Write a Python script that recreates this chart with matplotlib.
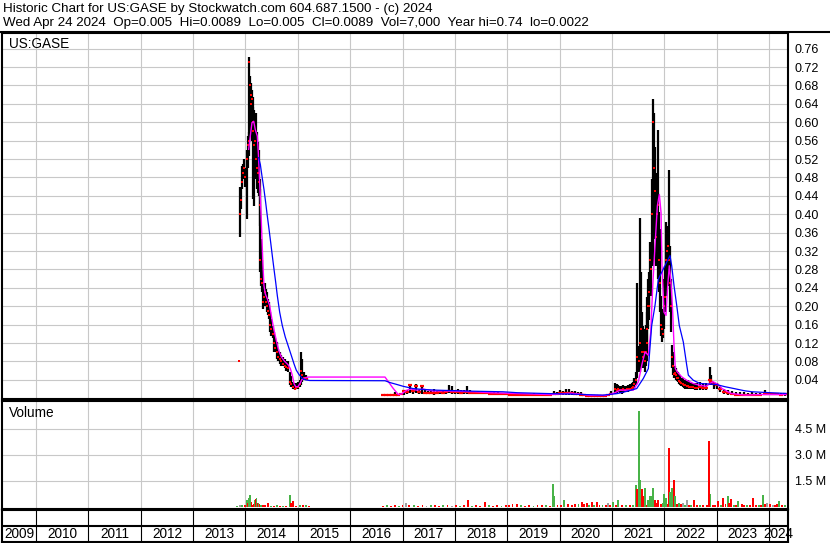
import numpy as np
import matplotlib.pyplot as plt
from matplotlib.lines import Line2D

plt.rcParams['font.family'] = ['Liberation Sans', 'DejaVu Sans']

# ---- price bars, dates as fractional years ----
# 2013-2015 run-up and collapse
dates_a = [2013.877, 2013.902, 2013.921, 2013.940, 2013.959, 2013.978, 2013.997, 2014.024, 2014.043, 2014.062,
           2014.074, 2014.087, 2014.100, 2014.112, 2014.125, 2014.139, 2014.150, 2014.163, 2014.177, 2014.196,
           2014.215, 2014.234, 2014.253, 2014.272, 2014.284, 2014.297, 2014.311, 2014.330, 2014.349, 2014.368,
           2014.387, 2014.406, 2014.425, 2014.444, 2014.469, 2014.494, 2014.521, 2014.545, 2014.570, 2014.597,
           2014.622, 2014.654, 2014.685, 2014.717, 2014.750, 2014.780, 2014.813, 2014.845, 2014.876, 2014.908,
           2014.941, 2014.971, 2015.004, 2015.036, 2015.067, 2015.086, 2015.118, 2015.151, 2015.181]
high_a = [0.080, 0.460, 0.454, 0.504, 0.510, 0.520, 0.500, 0.540, 0.570, 0.578,
          0.742, 0.700, 0.685, 0.670, 0.670, 0.655, 0.634, 0.627, 0.612, 0.620,
          0.578, 0.556, 0.540, 0.476, 0.454, 0.346, 0.300, 0.250, 0.244, 0.250,
          0.238, 0.230, 0.216, 0.210, 0.188, 0.173, 0.158, 0.145, 0.130, 0.123,
          0.108, 0.100, 0.093, 0.090, 0.086, 0.082, 0.080, 0.058, 0.049, 0.036,
          0.032, 0.032, 0.036, 0.040, 0.100, 0.086, 0.058, 0.050, 0.045]
low_a = [0.080, 0.350, 0.411, 0.454, 0.476, 0.490, 0.460, 0.390, 0.500, 0.526,
         0.569, 0.570, 0.590, 0.600, 0.560, 0.578, 0.433, 0.418, 0.490, 0.476,
         0.454, 0.447, 0.440, 0.374, 0.274, 0.244, 0.230, 0.195, 0.200, 0.210,
         0.200, 0.188, 0.180, 0.173, 0.145, 0.136, 0.130, 0.100, 0.100, 0.086,
         0.080, 0.075, 0.071, 0.069, 0.065, 0.060, 0.058, 0.028, 0.025, 0.021,
         0.017, 0.019, 0.021, 0.025, 0.028, 0.036, 0.039, 0.040, 0.040]
close_a = [0.080, 0.400, 0.430, 0.470, 0.490, 0.500, 0.480, 0.520, 0.550, 0.560,
           0.730, 0.680, 0.660, 0.640, 0.650, 0.600, 0.580, 0.550, 0.560, 0.520,
           0.500, 0.490, 0.470, 0.420, 0.300, 0.260, 0.250, 0.210, 0.220, 0.230,
           0.210, 0.200, 0.190, 0.180, 0.160, 0.150, 0.140, 0.120, 0.110, 0.100,
           0.090, 0.085, 0.080, 0.075, 0.070, 0.068, 0.065, 0.035, 0.030, 0.025,
           0.020, 0.022, 0.025, 0.030, 0.060, 0.050, 0.045, 0.045, 0.042]

# 2016-2020 quiet years
dates_b = [2016.627, 2016.685, 2016.742, 2016.799, 2016.857, 2016.914, 2016.971,
           2017.028, 2017.086, 2017.143, 2017.200, 2017.258, 2017.315, 2017.372, 2017.430, 2017.487, 2017.544,
           2017.601, 2017.659, 2017.716, 2017.773, 2017.831, 2017.888, 2017.945,
           2018.002, 2018.060, 2018.117, 2018.174, 2018.232, 2018.289, 2018.365, 2018.442, 2018.518, 2018.594,
           2018.671, 2018.747, 2018.824, 2018.900, 2018.976,
           2019.053, 2019.129, 2019.206, 2019.282, 2019.358, 2019.435, 2019.511, 2019.588, 2019.664, 2019.740,
           2019.817, 2019.893, 2019.950,
           2020.008, 2020.065, 2020.122, 2020.180, 2020.237, 2020.294, 2020.351, 2020.409, 2020.466, 2020.523,
           2020.581, 2020.638, 2020.695, 2020.753, 2020.810, 2020.867, 2020.925, 2020.982]
high_b = [0.010, 0.010, 0.009, 0.010, 0.014, 0.010, 0.012,
          0.018, 0.018, 0.030, 0.020, 0.030, 0.018, 0.028, 0.018, 0.016, 0.015,
          0.020, 0.016, 0.015, 0.016, 0.018, 0.028, 0.026,
          0.018, 0.020, 0.017, 0.018, 0.026, 0.017, 0.016, 0.016, 0.015, 0.014,
          0.014, 0.013, 0.013, 0.012, 0.012,
          0.012, 0.011, 0.011, 0.011, 0.010, 0.010, 0.011, 0.010, 0.010, 0.011,
          0.010, 0.016, 0.014,
          0.018, 0.015, 0.020, 0.020, 0.016, 0.015, 0.014, 0.013, 0.009, 0.008,
          0.008, 0.008, 0.008, 0.008, 0.008, 0.008, 0.009, 0.015]
low_b = [0.007, 0.006, 0.006, 0.006, 0.006, 0.006, 0.007,
         0.008, 0.010, 0.012, 0.010, 0.012, 0.010, 0.010, 0.010, 0.010, 0.010,
         0.008, 0.009, 0.010, 0.010, 0.010, 0.012, 0.010,
         0.010, 0.010, 0.010, 0.010, 0.010, 0.010, 0.010, 0.010, 0.009, 0.009,
         0.008, 0.008, 0.008, 0.007, 0.007,
         0.007, 0.006, 0.006, 0.006, 0.006, 0.006, 0.006, 0.006, 0.006, 0.006,
         0.006, 0.007, 0.007,
         0.008, 0.008, 0.008, 0.008, 0.008, 0.007, 0.007, 0.006, 0.004, 0.003,
         0.003, 0.003, 0.003, 0.003, 0.003, 0.003, 0.004, 0.006]
close_b = [0.008, 0.008, 0.007, 0.007, 0.008, 0.007, 0.009,
           0.015, 0.013, 0.028, 0.015, 0.027, 0.014, 0.026, 0.012, 0.012, 0.011,
           0.012, 0.012, 0.013, 0.012, 0.014, 0.015, 0.014,
           0.013, 0.014, 0.012, 0.013, 0.014, 0.012, 0.012, 0.012, 0.011, 0.011,
           0.010, 0.010, 0.010, 0.009, 0.009,
           0.008, 0.008, 0.008, 0.008, 0.007, 0.007, 0.007, 0.007, 0.007, 0.007,
           0.007, 0.010, 0.010,
           0.012, 0.011, 0.012, 0.012, 0.011, 0.010, 0.010, 0.008, 0.006, 0.005,
           0.005, 0.005, 0.005, 0.005, 0.005, 0.005, 0.006, 0.010]

# 2021-2022 spike
dates_c = [2021.058, 2021.121, 2021.186, 2021.249, 2021.312, 2021.377, 2021.427, 2021.459, 2021.484, 2021.511,
           2021.536, 2021.561, 2021.580, 2021.599, 2021.618, 2021.637, 2021.664, 2021.689, 2021.714, 2021.733,
           2021.752, 2021.771, 2021.790, 2021.810, 2021.829, 2021.848, 2021.867, 2021.886, 2021.905, 2021.924,
           2021.943, 2021.962, 2021.981,
           2022.000, 2022.019, 2022.038, 2022.057, 2022.076, 2022.095, 2022.114, 2022.133, 2022.153, 2022.172,
           2022.198, 2022.223, 2022.256, 2022.299, 2022.351, 2022.401, 2022.452, 2022.504, 2022.554, 2022.619,
           2021.090, 2021.153, 2021.218, 2021.280, 2021.345, 2021.402, 2021.650, 2021.676, 2021.702, 2022.186,
           2022.240, 2022.278, 2022.325, 2022.376, 2022.427, 2022.478, 2022.530, 2022.586]
high_c = [0.032, 0.028, 0.027, 0.027, 0.028, 0.032, 0.043, 0.058, 0.250, 0.114,
          0.391, 0.274, 0.188, 0.158, 0.151, 0.145, 0.188, 0.259, 0.274, 0.339,
          0.318, 0.476, 0.651, 0.620, 0.547, 0.490, 0.461, 0.584, 0.404, 0.368,
          0.223, 0.194, 0.188,
          0.259, 0.288, 0.383, 0.374, 0.361, 0.497, 0.331, 0.259, 0.115, 0.100,
          0.071, 0.065, 0.058, 0.049, 0.043, 0.039, 0.039, 0.034, 0.034, 0.032,
          0.030, 0.026, 0.028, 0.027, 0.030, 0.036, 0.160, 0.220, 0.240, 0.070,
          0.060, 0.052, 0.045, 0.040, 0.038, 0.036, 0.034, 0.033]
low_c = [0.010, 0.014, 0.010, 0.014, 0.014, 0.0175, 0.021, 0.028, 0.043, 0.058,
         0.058, 0.071, 0.065, 0.071, 0.065, 0.058, 0.080, 0.151, 0.194, 0.244,
         0.223, 0.288, 0.288, 0.404, 0.346, 0.288, 0.318, 0.259, 0.230, 0.188,
         0.136, 0.123, 0.130,
         0.151, 0.188, 0.223, 0.259, 0.244, 0.259, 0.188, 0.145, 0.065, 0.050,
         0.043, 0.039, 0.036, 0.028, 0.025, 0.021, 0.021, 0.019, 0.019, 0.017,
         0.012, 0.012, 0.012, 0.013, 0.015, 0.019, 0.070, 0.110, 0.170, 0.045,
         0.038, 0.030, 0.026, 0.023, 0.021, 0.020, 0.019, 0.018]
close_c = [0.020, 0.020, 0.018, 0.018, 0.020, 0.022, 0.030, 0.040, 0.090, 0.080,
           0.120, 0.150, 0.100, 0.090, 0.100, 0.080, 0.120, 0.200, 0.230, 0.300,
           0.280, 0.400, 0.600, 0.500, 0.450, 0.350, 0.400, 0.420, 0.300, 0.250,
           0.160, 0.150, 0.140,
           0.200, 0.220, 0.300, 0.320, 0.330, 0.300, 0.250, 0.200, 0.090, 0.070,
           0.055, 0.050, 0.045, 0.035, 0.030, 0.028, 0.026, 0.025, 0.024, 0.022,
           0.018, 0.017, 0.019, 0.020, 0.021, 0.025, 0.100, 0.150, 0.200, 0.052,
           0.045, 0.038, 0.032, 0.029, 0.027, 0.025, 0.024, 0.023]

# late 2022 - Apr 2024
dates_d = [2022.681, 2022.739, 2022.796, 2022.863, 2022.892, 2022.949, 2023.006, 2023.063, 2023.140, 2023.216,
           2023.293, 2023.369, 2023.446, 2023.522, 2023.598, 2023.675, 2023.751, 2023.828, 2023.923, 2024.000,
           2024.076, 2024.153, 2024.229, 2024.305]
high_d = [0.036, 0.034, 0.034, 0.067, 0.050, 0.036, 0.034, 0.025, 0.021, 0.018,
          0.015, 0.014, 0.013, 0.013, 0.012, 0.013, 0.012, 0.012, 0.017, 0.013,
          0.012, 0.012, 0.012, 0.0089]
low_d = [0.017, 0.017, 0.017, 0.028, 0.028, 0.021, 0.021, 0.014, 0.010, 0.008,
         0.006, 0.005, 0.005, 0.004, 0.005, 0.005, 0.005, 0.006, 0.007, 0.007,
         0.007, 0.006, 0.006, 0.005]
close_d = [0.024, 0.022, 0.022, 0.040, 0.035, 0.030, 0.028, 0.020, 0.014, 0.012,
           0.010, 0.008, 0.008, 0.007, 0.008, 0.008, 0.008, 0.008, 0.010, 0.009,
           0.009, 0.009, 0.008, 0.0089]

# ---- moving averages ----
ma_short_dates = [2014.062, 2014.093, 2014.125, 2014.158, 2014.188, 2014.227, 2014.246, 2014.272, 2014.297, 2014.316,
                  2014.335, 2014.354, 2014.379, 2014.418, 2014.463, 2014.494, 2014.540, 2014.589, 2014.635, 2014.685,
                  2014.750, 2014.813, 2014.857, 2014.895, 2014.927, 2014.960, 2015.004, 2015.042, 2015.080, 2015.132,
                  2015.195, 2016.666, 2016.729, 2016.824, 2016.920, 2016.985, 2017.080, 2017.176, 2017.271, 2017.397,
                  2017.588, 2017.811, 2018.098, 2018.384, 2018.671, 2018.957, 2019.244, 2019.530, 2019.817, 2020.008,
                  2020.199, 2020.390, 2020.581, 2020.867, 2021.026, 2021.154, 2021.408, 2021.504, 2021.569, 2021.632,
                  2021.695, 2021.741, 2021.779, 2021.822, 2021.867, 2021.905, 2021.937, 2021.956, 2021.994, 2022.032,
                  2022.065, 2022.095, 2022.128, 2022.160, 2022.185, 2022.210, 2022.248, 2022.332, 2022.428, 2022.554,
                  2022.681, 2022.796, 2022.930, 2023.025, 2023.102, 2023.274, 2023.541, 2023.828, 2024.324]
ma_short = [0.541, 0.570, 0.599, 0.602, 0.584, 0.570, 0.534, 0.469, 0.404, 0.346,
            0.288, 0.245, 0.227, 0.216, 0.2016, 0.180, 0.151, 0.126, 0.104, 0.090,
            0.080, 0.073, 0.0645, 0.050, 0.032, 0.025, 0.025, 0.032, 0.041, 0.044,
            0.046, 0.046, 0.036, 0.021, 0.008, 0.0095, 0.0175, 0.020, 0.0175, 0.020,
            0.0155, 0.016, 0.015, 0.014, 0.012, 0.011, 0.010, 0.009, 0.008, 0.009,
            0.011, 0.009, 0.006, 0.006, 0.0104, 0.0175, 0.0175, 0.0357, 0.0717, 0.1006,
            0.0933, 0.144, 0.245, 0.331, 0.418, 0.443, 0.404, 0.288, 0.187, 0.180,
            0.245, 0.288, 0.252, 0.187, 0.115, 0.0645, 0.057, 0.0465, 0.039, 0.032,
            0.028, 0.026, 0.036, 0.030, 0.021, 0.0104, 0.0067, 0.008, 0.008]

ma_long_dates = [2014.253, 2014.285, 2014.316, 2014.354, 2014.387, 2014.418, 2014.450, 2014.482, 2014.513, 2014.545,
                 2014.578, 2014.609, 2014.654, 2014.704, 2014.761, 2014.813, 2014.876, 2014.927, 2014.971, 2015.023,
                 2015.080, 2015.143, 2015.227, 2016.666, 2016.761, 2016.857, 2017.010, 2017.200, 2017.391, 2017.659,
                 2018.289, 2018.919, 2019.187, 2019.683, 2020.199, 2020.829, 2021.097, 2021.288, 2021.473, 2021.599,
                 2021.695, 2021.759, 2021.822, 2021.886, 2021.951, 2022.046, 2022.109, 2022.141, 2022.185, 2022.237,
                 2022.286, 2022.363, 2022.428, 2022.459, 2022.554, 2022.681, 2022.987, 2023.159, 2023.331, 2023.541,
                 2023.675, 2024.019, 2024.324]
ma_long = [0.523, 0.508, 0.483, 0.454, 0.425, 0.396, 0.368, 0.339, 0.310, 0.281,
           0.252, 0.223, 0.187, 0.158, 0.133, 0.115, 0.093, 0.075, 0.061, 0.0515,
           0.044, 0.040, 0.0385, 0.038, 0.034, 0.031, 0.026, 0.021, 0.019, 0.0175,
           0.0154, 0.014, 0.012, 0.0104, 0.009, 0.0067, 0.010, 0.015, 0.021, 0.043,
           0.0645, 0.158, 0.2016, 0.259, 0.274, 0.296, 0.310, 0.288, 0.245, 0.2016,
           0.158, 0.122, 0.0717, 0.050, 0.039, 0.032, 0.030, 0.025, 0.021, 0.016,
           0.014, 0.012, 0.0104]

# ---- volume (millions), g = up day, r = down day, k = unchanged ----
vol_dates = [2013.839, 2013.896, 2013.934, 2013.992, 2014.030, 2014.049, 2014.068, 2014.093, 2014.116, 2014.135,
             2014.154, 2014.173, 2014.192, 2014.211, 2014.230, 2014.250, 2014.269, 2014.297, 2014.335, 2014.374,
             2014.437, 2014.488, 2014.545, 2014.603, 2014.660, 2014.717, 2014.775, 2014.851, 2014.870, 2014.914,
             2014.966, 2015.042, 2015.099, 2015.157, 2015.214,
             2016.63, 2016.70, 2016.78, 2016.85, 2016.93, 2017.00, 2017.061, 2017.13, 2017.22, 2017.30,
             2017.38, 2017.46, 2017.54, 2017.62, 2017.70, 2017.78, 2017.86, 2017.94, 2018.02, 2018.10,
             2018.18, 2018.256, 2018.32, 2018.40, 2018.48, 2018.575, 2018.65, 2018.73, 2018.81, 2018.89,
             2018.97, 2019.04, 2019.10, 2019.18, 2019.26, 2019.34, 2019.42, 2019.50, 2019.58, 2019.66,
             2019.74, 2019.82, 2019.880, 2019.899, 2019.96, 2020.03, 2020.090, 2020.16, 2020.23, 2020.30,
             2020.36, 2020.428, 2020.47, 2020.523, 2020.56, 2020.613, 2020.66, 2020.708, 2020.76, 2020.82,
             2020.88, 2020.930, 2020.97, 2021.026, 2021.07, 2021.115,
             2021.192, 2021.268, 2021.345, 2021.402, 2021.454, 2021.475, 2021.493, 2021.523, 2021.542, 2021.569,
             2021.593, 2021.632, 2021.664, 2021.689, 2021.718, 2021.746, 2021.784, 2021.822, 2021.851, 2021.880,
             2021.931, 2021.966, 2022.000, 2022.027, 2022.065, 2022.084, 2022.109, 2022.141, 2022.179, 2022.204,
             2022.242, 2022.280, 2022.318, 2022.363, 2022.395, 2022.428, 2022.471, 2022.510, 2022.567, 2022.624,
             2022.681, 2022.739, 2022.815, 2022.859, 2022.882, 2022.930, 2022.968, 2023.032, 2023.083, 2023.127,
             2023.170, 2023.211, 2023.236, 2023.274, 2023.331, 2023.369, 2023.413, 2023.478, 2023.522, 2023.573,
             2023.637, 2023.700, 2023.751, 2023.809, 2023.847, 2023.891, 2023.923, 2023.961, 2024.019, 2024.076,
             2024.114, 2024.153, 2024.196, 2024.248, 2024.305]
vol_values = [0.05, 0.08, 0.06, 0.10, 0.37, 0.22, 0.47, 0.66, 0.27, 0.10,
              0.15, 0.40, 0.45, 0.47, 0.20, 0.20, 0.12, 0.10, 0.10, 0.10,
              0.20, 0.05, 0.05, 0.08, 0.05, 0.05, 0.05, 0.66, 0.20, 0.30,
              0.05, 0.10, 0.10, 0.10, 0.05,
              0.05, 0.06, 0.05, 0.07, 0.05, 0.06, 0.20, 0.06, 0.08, 0.05,
              0.07, 0.05, 0.06, 0.08, 0.05, 0.06, 0.07, 0.05, 0.06, 0.05,
              0.07, 0.37, 0.05, 0.06, 0.05, 0.25, 0.06, 0.05, 0.07, 0.05,
              0.06, 0.08, 0.15, 0.12, 0.06, 0.05, 0.07, 0.05, 0.06, 0.09,
              0.06, 0.05, 1.30, 0.60, 0.07, 0.10, 0.37, 0.12, 0.10, 0.15,
              0.12, 0.25, 0.15, 0.22, 0.10, 0.25, 0.10, 0.25, 0.08, 0.10,
              0.08, 0.20, 0.10, 0.25, 0.10, 0.37,
              0.08, 0.10, 0.06, 0.08, 1.24, 1.00, 0.54, 5.53, 1.53, 1.00,
              0.60, 1.05, 0.08, 0.37, 0.60, 0.60, 1.05, 0.35, 0.20, 0.35,
              0.12, 0.20, 0.75, 0.47, 0.17, 3.36, 0.85, 1.07, 1.53, 0.60,
              0.15, 0.20, 0.15, 0.20, 0.08, 0.37, 0.10, 0.08, 0.40, 0.08,
              0.10, 0.06, 0.10, 3.78, 0.70, 0.08, 0.10, 0.30, 0.10, 0.50,
              0.15, 0.60, 0.20, 0.45, 0.10, 0.08, 0.30, 0.15, 0.10, 0.10,
              0.08, 0.50, 0.10, 0.08, 0.10, 0.66, 0.15, 0.20, 0.12, 0.06,
              0.10, 0.12, 0.30, 0.06, 0.07]
vol_kinds = list('gkgrgrggrr' 'rgrgrgrgrr' 'rgrgrgrgrr' 'rgrgr'
                 'rgrrgrkrgr' 'rkgrrgrkrg' 'rrgrrrgrrg' 'rrrrgrrgrr' 'grggrrgrrr' 'grrrgrgrrg' 'rkrgrg'
                 'rgrggrrggr' 'rgrggggrrr' 'rgggrrggrg' 'rgrkgkrgrr' 'grrrgrrrgr' 'rgrrgrgrrg' 'rrrgrgrkrk' 'rrgrg')

year_ticks = list(range(2010, 2025))
price_ticks = [0.04, 0.08, 0.12, 0.16, 0.20, 0.24, 0.28, 0.32, 0.36, 0.40,
               0.44, 0.48, 0.52, 0.56, 0.60, 0.64, 0.68, 0.72, 0.76]
vol_ticks = [1.5, 3.0, 4.5]
vol_tick_labels = ['1.5 M', '3.0 M', '4.5 M']
year_labels = list(range(2009, 2025))

header_1 = 'Historic Chart for US:GASE by Stockwatch.com 604.687.1500 - (c) 2024'
header_2 = ('Wed Apr 24 2024  Op=0.005  Hi=0.0089  Lo=0.005  Cl=0.0089  '
            'Vol=7,000  Year hi=0.74  lo=0.0022')

# ---- layout ----
W, H = 830, 543
fig = plt.figure(figsize=(W / 100, H / 100), dpi=100)


def px_rect(x0, y0, x1, y1):
    return [x0 / W, 1 - y1 / H, (x1 - x0) / W, (y1 - y0) / H]


x_lo, x_hi = 2009.351, 2024.362
grid_c = '#c8c8c8'
border_w = 1.5

ax = fig.add_axes(px_rect(2, 33, 788, 399))
axv = fig.add_axes(px_rect(2, 401, 788, 509))
axd = fig.add_axes(px_rect(2, 510, 788, 542))

for a in (ax, axv, axd):
    a.set_xlim(x_lo, x_hi)
    for s in a.spines.values():
        s.set_linewidth(border_w)
        s.set_color('black')

# price panel
ax.set_ylim(-0.0017, 0.794)
ax.set_xticks(year_ticks)
ax.set_yticks(price_ticks)
ax.set_yticklabels(['%.2f' % t for t in price_ticks])
ax.yaxis.tick_right()
ax.tick_params(axis='x', length=0, labelbottom=False)
ax.tick_params(axis='y', length=0, pad=5, labelsize=9)
ax.grid(True, color=grid_c, lw=0.8)
ax.set_axisbelow(True)

for d, hi, lo in [(dates_a, high_a, low_a), (dates_b, high_b, low_b),
                  (dates_c, high_c, low_c), (dates_d, high_d, low_d)]:
    ax.vlines(d, lo, hi, color='black', lw=1.6, zorder=2)
# closes: small dots on the busy stretches, short dashes on the quiet ones
for d, cl in [(dates_a, close_a), (dates_c, close_c)]:
    ax.plot(d, cl, ls='none', marker='s', ms=1.6, mew=0, color='#ff0000', zorder=3)
for d, cl in [(dates_b, close_b), (dates_d, close_d)]:
    ax.plot(d, cl, ls='none', marker='_', ms=2.6, mew=1.6, color='#ff0000', zorder=3)

ax.plot(ma_short_dates, ma_short, color='#ff00ff', lw=1.0, zorder=4)
ax.plot(ma_long_dates, ma_long, color='#0000ff', lw=0.9, zorder=5)
ax.text(0.009, 0.988, 'US:GASE', transform=ax.transAxes, ha='left', va='top', fontsize=9.8)

# volume panel
colors = {'g': '#48b348', 'r': '#ff0000', 'k': '#a0a0a0'}
axv.set_ylim(-0.144, 6.09)
axv.set_xticks(year_ticks)
axv.set_yticks(vol_ticks)
axv.set_yticklabels(vol_tick_labels)
axv.yaxis.tick_right()
axv.tick_params(axis='x', length=0, labelbottom=False)
axv.tick_params(axis='y', length=0, pad=5, labelsize=9)
axv.grid(True, color=grid_c, lw=0.8)
axv.set_axisbelow(True)
axv.bar(vol_dates, vol_values, width=0.034, color=[colors[k] for k in vol_kinds], zorder=2)
axv.text(0.009, 0.955, 'Volume', transform=axv.transAxes, ha='left', va='top', fontsize=9.8)

# date strip
axd.set_ylim(0, 1)
axd.set_xticks([])
axd.set_yticks([])
axd.vlines(year_ticks, 0, 1, color='black', lw=0.8)
axd.axhline(0.5, color='black', lw=border_w)
for y in year_labels:
    c = (max(y, x_lo) + min(y + 1, x_hi)) / 2
    axd.text(c, 0.24, str(y), ha='center', va='center', fontsize=9.8)

# header
fig.add_artist(Line2D([0, 1], [1 - 32 / H, 1 - 32 / H], color='black', lw=border_w))
fig.text(3 / W, 1 - 9 / H, header_1, ha='left', va='center', fontsize=9.6)
fig.text(3 / W, 1 - 23 / H, header_2, ha='left', va='center', fontsize=9.6)

fig.savefig('out.png', dpi=100)
